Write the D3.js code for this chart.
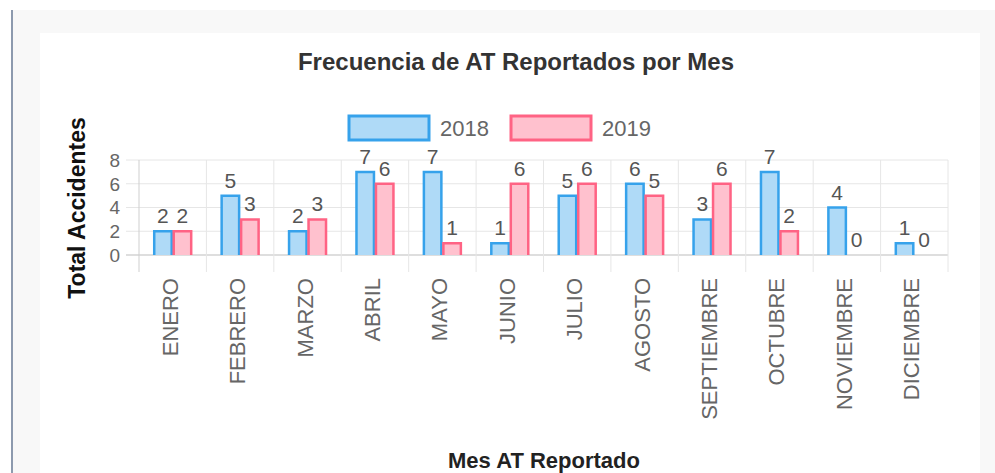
<!DOCTYPE html>
<head>
    <meta charset="utf-8">
    <style>
        body { margin: 0; background: #fff; }
        svg { display: block; }
        text { font-family: "Liberation Sans", Arial, sans-serif; }
        .grid line { stroke: #e6e6e6; stroke-width: 1; }
        .tick-y { fill: #666; font-size: 19px; }
        .tick-x { fill: #666; font-size: 22px; }
        .val { fill: #555; font-size: 21px; }
        .legend text { fill: #666; font-size: 22px; }
    </style>
</head>
<body>
    <svg width="995" height="473"></svg>
    <script src="https://d3js.org/d3.v7.min.js"></script>
    <script>

    var months = ["ENERO", "FEBRERO", "MARZO", "ABRIL", "MAYO", "JUNIO",
                  "JULIO", "AGOSTO", "SEPTIEMBRE", "OCTUBRE", "NOVIEMBRE", "DICIEMBRE"];
    var years = ["2018", "2019"];
    var v2018 = [2, 5, 2, 7, 7, 1, 5, 6, 3, 7, 4, 1];
    var v2019 = [2, 3, 3, 6, 1, 6, 6, 5, 6, 2, 0, 0];
    var yTicks = [0, 2, 4, 6, 8];

    var colors = {
        "2018": { stroke: "#36a2eb", fill: "#afdaf7" },
        "2019": { stroke: "#ff6384", fill: "#ffc1ce" }
    };

    var svg = d3.select("svg");

    // page frame
    svg.append("rect").attr("x", 13).attr("y", 10).attr("width", 982).attr("height", 463).attr("fill", "#f8f8f8");
    svg.append("line").attr("x1", 12).attr("x2", 12).attr("y1", 10).attr("y2", 473)
        .attr("stroke", "#8d9aae").attr("stroke-width", 2);
    svg.append("rect").attr("x", 40).attr("y", 33).attr("width", 940).attr("height", 440).attr("fill", "#fff");

    var plotL = 139, plotR = 948, plotT = 160, plotB = 255;

    var x0 = d3.scaleBand().domain(months).range([plotL, plotR]);
    var x1 = d3.scaleBand().domain(years).range([0, x0.bandwidth()]).paddingOuter(0.73);
    var y = d3.scaleLinear().domain([0, 8]).range([plotB, plotT]);

    var data = months.map(function(m, i) {
        return { month: m, vals: [{ year: "2018", v: v2018[i] }, { year: "2019", v: v2019[i] }] };
    });

    // grid
    var grid = svg.append("g").attr("class", "grid");
    grid.selectAll(".h").data(yTicks).enter().append("line")
        .attr("x1", plotL - 13).attr("x2", plotR)
        .attr("y1", function(d) { return y(d); }).attr("y2", function(d) { return y(d); })
        .style("stroke", function(d) { return d === 0 ? "#bdbdbd" : null; });
    var vlines = months.map(function(m) { return x0(m); }).concat([plotR]);
    grid.selectAll(".v").data(vlines).enter().append("line")
        .attr("x1", function(d) { return d; }).attr("x2", function(d) { return d; })
        .attr("y1", plotT).attr("y2", plotB + 17)
        .style("stroke", function(d, i) { return i === 0 ? "#cfcfcf" : null; });

    // y tick labels
    svg.selectAll(".tick-y").data(yTicks).enter().append("text")
        .attr("class", "tick-y")
        .attr("x", 120).attr("y", function(d) { return y(d); })
        .attr("dy", "0.36em").attr("text-anchor", "end")
        .text(function(d) { return d; });

    // x tick labels
    svg.selectAll(".tick-x").data(months).enter().append("text")
        .attr("class", "tick-x")
        .attr("text-anchor", "end")
        .attr("transform", function(d) {
            return "translate(" + (x0(d) + x0.bandwidth() / 2 + 5) + "," + 278 + ") rotate(-90)";
        })
        .text(function(d) { return d; });

    // bars
    var groups = svg.selectAll(".grp").data(data).enter().append("g")
        .attr("transform", function(d) { return "translate(" + x0(d.month) + ",0)"; });

    function nonZero(d) { return d.vals.filter(function(e) { return e.v > 0; }); }

    groups.selectAll(".bar").data(nonZero)
        .enter().append("path")
        .attr("class", "bar")
        .attr("d", function(d) {
            var xa = x1(d.year) + 1, xb = x1(d.year) + x1.bandwidth() - 1, yt = y(d.v);
            return "M" + xa + "," + plotB + "V" + yt + "H" + xb + "V" + plotB + "Z";
        })
        .attr("fill", function(d) { return colors[d.year].fill; });
    groups.selectAll(".edge").data(nonZero)
        .enter().append("path")
        .attr("class", "edge")
        .attr("d", function(d) {
            var xa = x1(d.year) + 1, xb = x1(d.year) + x1.bandwidth() - 1, yt = y(d.v);
            return "M" + xa + "," + plotB + "V" + yt + "H" + xb + "V" + plotB;
        })
        .attr("fill", "none")
        .attr("stroke", function(d) { return colors[d.year].stroke; })
        .attr("stroke-width", 2.5);

    groups.selectAll("text").data(function(d) { return d.vals; })
        .enter().append("text")
        .attr("class", "val")
        .attr("x", function(d) { return x1(d.year) + x1.bandwidth() / 2; })
        .attr("y", function(d) { return y(d.v) - 8; })
        .attr("text-anchor", "middle")
        .text(function(d) { return d.v; });

    // title
    svg.append("text")
        .attr("x", 516).attr("y", 70)
        .attr("text-anchor", "middle")
        .style("font-size", "24px").style("font-weight", "bold").style("fill", "#333")
        .text("Frecuencia de AT Reportados por Mes");

    // legend
    var legend = svg.append("g").attr("class", "legend");
    var lg = legend.selectAll("g").data(years).enter().append("g")
        .attr("transform", function(d, i) { return "translate(" + (349 + i * 162) + ",116)"; });
    lg.append("rect")
        .attr("width", 80).attr("height", 24)
        .attr("fill", function(d) { return colors[d].fill; })
        .attr("stroke", function(d) { return colors[d].stroke; })
        .attr("stroke-width", 3);
    lg.append("text")
        .attr("x", 91).attr("y", 12).attr("dy", "0.36em")
        .text(function(d) { return d; });

    // axis titles
    svg.append("text")
        .attr("transform", "translate(85,208) rotate(-90)")
        .attr("text-anchor", "middle")
        .style("font-size", "23px").style("font-weight", "bold").style("fill", "#111")
        .text("Total Accidentes");
    svg.append("text")
        .attr("x", 544).attr("y", 468)
        .attr("text-anchor", "middle")
        .style("font-size", "22px").style("font-weight", "bold").style("fill", "#222")
        .text("Mes AT Reportado");

    </script>
</body>
